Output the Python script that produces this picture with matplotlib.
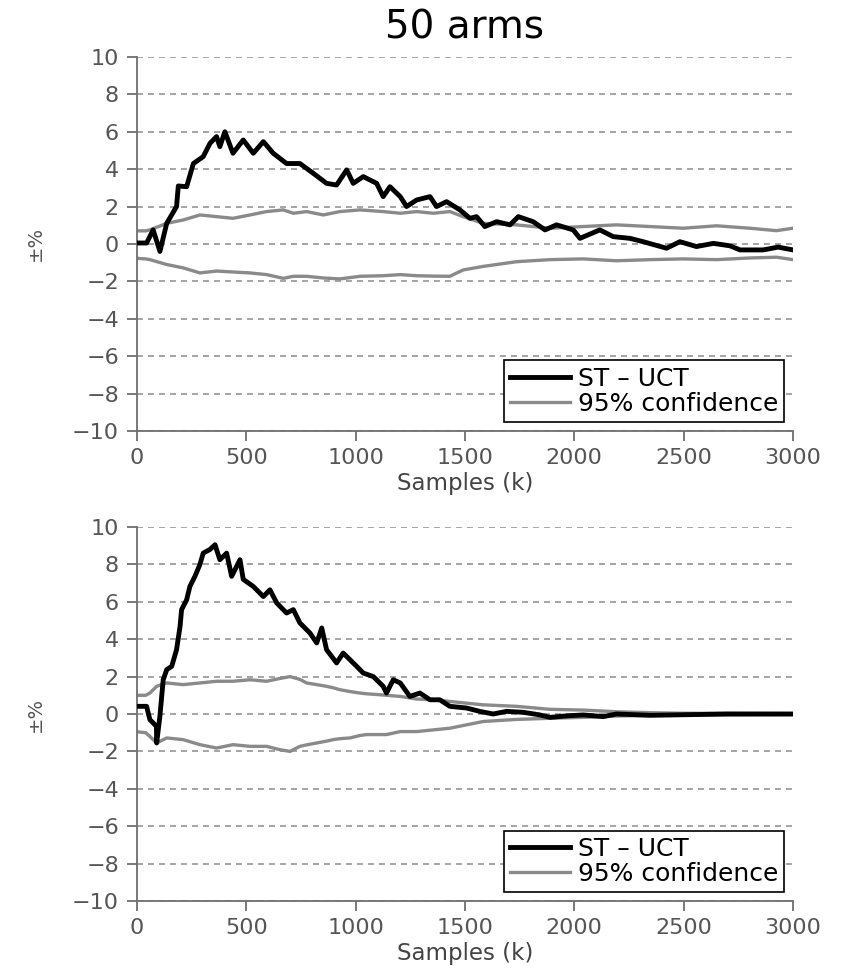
import numpy as np
import matplotlib.pyplot as plt

plt.rcParams['font.family'] = ['DejaVu Sans']

# top panel: ST - UCT difference (k samples, %)
top_x = [0, 44, 74, 105, 136, 181, 189, 227, 258, 303, 334, 364, 379, 402, 439, 486,
         532, 578, 623, 684, 745, 806, 867, 913, 959, 989, 1035, 1096, 1126, 1157, 1204,
         1233, 1279, 1340, 1370, 1416, 1477, 1523, 1553, 1591, 1645, 1706, 1744, 1812,
         1866, 1919, 1995, 2026, 2117, 2178, 2254, 2315, 2422, 2483, 2559, 2636, 2712,
         2758, 2864, 2932, 3000]
top_diff = [0.05, 0.05, 0.75, -0.4, 1.1, 2.0, 3.1, 3.06, 4.3, 4.67, 5.38, 5.74, 5.2, 6.0,
            4.85, 5.56, 4.85, 5.47, 4.85, 4.3, 4.3, 3.78, 3.24, 3.15, 3.96, 3.24, 3.6, 3.24,
            2.53, 3.06, 2.53, 2.0, 2.35, 2.53, 2.0, 2.26, 1.82, 1.37, 1.46, 0.93, 1.19, 1.02,
            1.46, 1.19, 0.75, 1.02, 0.75, 0.3, 0.75, 0.39, 0.3, 0.12, -0.23, 0.12, -0.14,
            0.03, -0.1, -0.32, -0.32, -0.17, -0.32]
# top panel: 95% confidence bounds
top_ci_x = [0, 40, 59, 136, 211, 288, 364, 439, 517, 593, 669, 715, 776, 852, 928, 1020,
            1126, 1204, 1279, 1355, 1431, 1492, 1584, 1736, 1889, 2041, 2193, 2346, 2498,
            2651, 2803, 2925, 3000]
top_hi = [0.7, 0.7, 0.75, 1.1, 1.28, 1.55, 1.46, 1.37, 1.55, 1.73, 1.82, 1.64, 1.73, 1.55,
          1.73, 1.82, 1.73, 1.64, 1.73, 1.64, 1.73, 1.46, 1.1, 1.02, 0.84, 0.93, 1.02, 0.93,
          0.84, 0.97, 0.84, 0.71, 0.84]
top_lo = [-0.77, -0.8, -0.84, -1.1, -1.28, -1.55, -1.45, -1.5, -1.55, -1.64, -1.84, -1.73,
          -1.73, -1.82, -1.87, -1.73, -1.7, -1.64, -1.7, -1.72, -1.73, -1.39, -1.2, -0.95,
          -0.84, -0.8, -0.9, -0.84, -0.8, -0.84, -0.75, -0.71, -0.84]

# bottom panel: ST - UCT difference
bot_x = [0, 44, 59, 89, 90, 105, 120, 136, 159, 181, 197, 204, 227, 242, 265, 288, 303,
         334, 357, 379, 410, 433, 471, 486, 532, 578, 608, 639, 684, 715, 745, 791, 822,
         845, 867, 913, 943, 989, 1035, 1081, 1126, 1141, 1172, 1204, 1248, 1294, 1340,
         1385, 1431, 1507, 1568, 1629, 1690, 1767, 1843, 1889, 1965, 2041, 2132, 2193,
         2346, 2498, 2700, 3000]
bot_diff = [0.41, 0.41, -0.3, -0.66, -1.55, -0.1, 1.83, 2.37, 2.55, 3.44, 4.68, 5.58, 6.1,
            6.82, 7.36, 8.0, 8.6, 8.8, 9.05, 8.25, 8.6, 7.36, 8.25, 7.2, 6.82, 6.28, 6.64,
            5.94, 5.4, 5.58, 4.87, 4.33, 3.8, 4.6, 3.44, 2.73, 3.26, 2.73, 2.19, 2.0, 1.48,
            1.12, 1.83, 1.66, 0.94, 1.12, 0.76, 0.76, 0.41, 0.32, 0.14, 0.0, 0.14, 0.09,
            -0.05, -0.18, -0.1, -0.05, -0.14, 0.0, -0.07, -0.04, 0.0, 0.0]
bot_ci_x = [0, 40, 59, 90, 136, 211, 288, 364, 439, 517, 593, 654, 700, 745, 776, 822, 867,
            898, 928, 974, 1020, 1050, 1111, 1141, 1204, 1279, 1355, 1431, 1507, 1584, 1736,
            1889, 2041, 2193, 2346, 2498, 2750, 3000]
bot_hi = [1.0, 1.0, 1.12, 1.48, 1.66, 1.57, 1.66, 1.75, 1.75, 1.83, 1.75, 1.9, 2.0, 1.85,
          1.66, 1.57, 1.48, 1.4, 1.3, 1.2, 1.12, 1.08, 1.03, 1.0, 0.94, 0.8, 0.76, 0.67,
          0.58, 0.49, 0.41, 0.25, 0.21, 0.12, 0.07, 0.04, 0.03, 0.02]
bot_lo = [-0.95, -1.0, -1.2, -1.55, -1.28, -1.37, -1.64, -1.82, -1.64, -1.73, -1.73, -1.91,
          -2.0, -1.73, -1.65, -1.55, -1.45, -1.37, -1.32, -1.28, -1.15, -1.1, -1.1, -1.1,
          -0.94, -0.94, -0.85, -0.76, -0.58, -0.4, -0.29, -0.23, -0.18, -0.11, -0.07, -0.05,
          -0.04, -0.03]

title = "50 arms"
yticks = np.arange(-10, 11, 2)
xticks = [0, 500, 1000, 1500, 2000, 2500, 3000]

fig = plt.figure(figsize=(8.45, 9.68), dpi=100)
ax_top = fig.add_axes([0.1621, 0.5548, 0.7763, 0.3864])
ax_bot = fig.add_axes([0.1621, 0.0692, 0.7763, 0.3864])

panels = [(ax_top, top_x, top_diff, top_ci_x, top_hi, top_lo),
          (ax_bot, bot_x, bot_diff, bot_ci_x, bot_hi, bot_lo)]

for ax, x, d, cx, hi, lo in panels:
    for y in yticks:
        ax.axhline(y, color='#8c8c8c', lw=1.1, ls=(0, (3.9, 3.3)), zorder=0)
    ax.plot(cx, hi, color='#8a8a8a', lw=2.4, label='95% confidence', zorder=2)
    ax.plot(cx, lo, color='#8a8a8a', lw=2.4, zorder=2)
    ax.plot(x, d, color='black', lw=3.5, label='ST \u2013 UCT', zorder=3)
    ax.set_xlim(0, 3000)
    ax.set_ylim(-10, 10)
    ax.set_xticks(xticks)
    ax.set_yticks(yticks)
    ax.set_yticklabels([str(v).replace('-', '\u2212') for v in yticks])
    for s in ['top', 'right']:
        ax.spines[s].set_visible(False)
    for s in ['left', 'bottom']:
        ax.spines[s].set_color('#6e6e6e')
        ax.spines[s].set_linewidth(1.3)
    ax.tick_params(direction='out', length=7, width=1.3, color='#6e6e6e',
                   labelcolor='#555555', labelsize=16)
    ax.tick_params(axis='y', pad=6)
    ax.tick_params(axis='x', pad=5)
    ax.set_xlabel('Samples (k)', fontsize=16.5, color='#444444', labelpad=3)
    ax.set_ylabel('\u00b1%', fontsize=14, color='#555555')
    ax.yaxis.set_label_coords(-0.14, 0.5)
    h, l = ax.get_legend_handles_labels()
    leg = ax.legend(h[::-1], l[::-1], loc='lower right', fontsize=18,
                    frameon=True, fancybox=False, edgecolor='black', framealpha=1,
                    handlelength=2.4, handletextpad=0.3, borderpad=0.25,
                    labelspacing=0.05, borderaxespad=0.35)
    leg.get_frame().set_linewidth(1.2)

fig.text(0.55, 0.972, title, ha='center', va='center', fontsize=28)

fig.savefig('out.png', dpi=100)
